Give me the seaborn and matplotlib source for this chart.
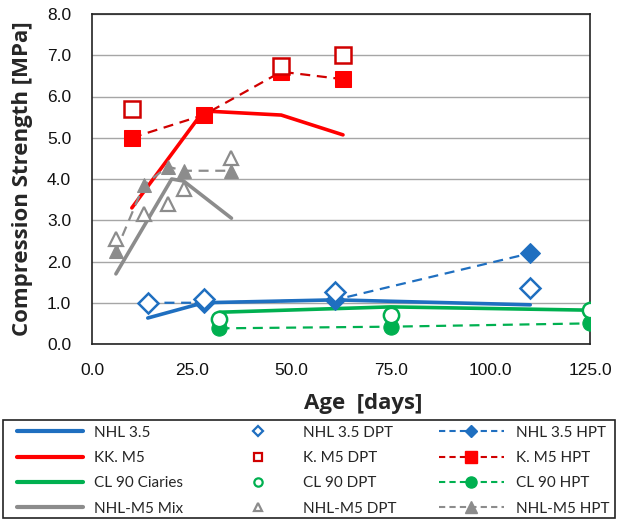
import matplotlib
matplotlib.use("Agg")
import matplotlib.pyplot as plt
import seaborn as sns
from matplotlib.lines import Line2D
from matplotlib.patches import Rectangle

# ---- data ----
nhl_x = [14, 28, 61, 110]
nhl_y = [0.63, 1.0, 1.07, 0.95]
nhl_dpt_x = [14, 28, 61, 110]
nhl_dpt_y = [1.0, 1.1, 1.25, 1.35]
nhl_hpt_x = [14, 28, 61, 110]
nhl_hpt_y = [1.0, 1.0, 1.07, 2.2]

km5_x = [10, 28, 47.5, 63]
km5_y = [3.3, 5.65, 5.55, 5.07]
km5_dpt_x = [10, 47.5, 63]
km5_dpt_y = [5.7, 6.75, 7.0]
km5_hpt_x = [10, 28, 47.5, 63]
km5_hpt_y = [5.0, 5.55, 6.6, 6.42]

cl_x = [32, 75, 125]
cl_y = [0.77, 0.9, 0.82]
cl_dpt_x = [32, 75, 125]
cl_dpt_y = [0.6, 0.7, 0.82]
cl_hpt_x = [32, 75, 125]
cl_hpt_y = [0.38, 0.42, 0.5]

mix_x = [6, 20, 23, 35]
mix_y = [1.7, 4.0, 3.95, 3.05]
mix_dpt_x = [6, 13, 19, 23, 35]
mix_dpt_y = [2.55, 3.15, 3.4, 3.75, 4.5]
mix_hpt_x = [6, 13, 19, 23, 35]
mix_hpt_y = [2.25, 3.85, 4.3, 4.2, 4.2]

x_ticks = [0, 25, 50, 75, 100, 125]
y_ticks = [0, 1, 2, 3, 4, 5, 6, 7, 8]

labels = ["NHL 3.5", "KK. M5", "CL 90 Ciaries", "NHL-M5 Mix",
          "NHL 3.5 DPT", "K. M5 DPT", "CL 90 DPT", "NHL-M5 DPT",
          "NHL 3.5 HPT", "K. M5 HPT", "CL 90 HPT", "NHL-M5 HPT"]

BLUE = "#1f6fc0"
RED = "#ff0000"
DRED = "#d00000"
GREEN = "#00b050"
GRAY = "#8c8c8c"

sns.set_style("white")
plt.rcParams['font.family'] = ['Liberation Sans', 'DejaVu Sans']

W, H = 617, 521
fig = plt.figure(figsize=(W / 100, H / 100), dpi=100)
ax = fig.add_axes([92/W, 1-344/H, (590-92)/W, (344-14)/H])

dash = (4.5, 3)
lw_solid = 2.6
lw_dash = 1.6

def line(x, y, **kw):
    sns.lineplot(x=x, y=y, ax=ax, sort=False, estimator=None, **kw)

# gray series
line(mix_x, mix_y, color=GRAY, linewidth=lw_solid, zorder=3)
line(mix_hpt_x, mix_hpt_y, color=GRAY, linewidth=lw_dash, dashes=dash,
     marker='^', markersize=10, markeredgecolor=GRAY, markerfacecolor=GRAY, zorder=4)
line(mix_dpt_x, mix_dpt_y, color=GRAY, linestyle='', marker='^', markersize=10,
     markerfacecolor='white', markeredgecolor=GRAY, markeredgewidth=1.6, zorder=5)

# red series
line(km5_x, km5_y, color=RED, linewidth=lw_solid, zorder=3)
line(km5_hpt_x, km5_hpt_y, color=DRED, linewidth=lw_dash, dashes=dash,
     marker='s', markersize=11, markeredgecolor=RED, markerfacecolor=RED, zorder=4)
line(km5_dpt_x, km5_dpt_y, color=DRED, linestyle='', marker='s', markersize=11,
     markerfacecolor='white', markeredgecolor=DRED, markeredgewidth=1.8, zorder=5)

# blue series
line(nhl_x, nhl_y, color=BLUE, linewidth=lw_solid, zorder=3)
line(nhl_hpt_x, nhl_hpt_y, color=BLUE, linewidth=lw_dash, dashes=dash,
     marker='D', markersize=10.5, markeredgecolor=BLUE, markerfacecolor=BLUE, zorder=4)
line(nhl_dpt_x, nhl_dpt_y, color=BLUE, linestyle='', marker='D', markersize=10.5,
     markerfacecolor='white', markeredgecolor=BLUE, markeredgewidth=1.8, zorder=5)

# green series
line(cl_x, cl_y, color=GREEN, linewidth=lw_solid, zorder=3)
line(cl_hpt_x, cl_hpt_y, color=GREEN, linewidth=lw_dash, dashes=dash,
     marker='o', markersize=11, markeredgecolor=GREEN, markerfacecolor=GREEN, zorder=4)
line(cl_dpt_x, cl_dpt_y, color=GREEN, linestyle='', marker='o', markersize=11,
     markerfacecolor='white', markeredgecolor=GREEN, markeredgewidth=1.8, zorder=5)

ax.set_xlim(0, 125)
ax.set_ylim(0, 8)
ax.set_xticks(x_ticks)
ax.set_xticklabels([f"{v:.1f}" for v in x_ticks])
ax.set_yticks(y_ticks)
ax.set_yticklabels([f"{v:.1f}" for v in y_ticks])
ax.yaxis.grid(True, color="#a6a6a6", linewidth=1.0, zorder=0)
ax.set_axisbelow(True)
for s in ax.spines.values():
    s.set_color("#222222")
    s.set_linewidth(1.2)
ax.tick_params(axis='both', direction='out', length=5, width=1.2, color="#222222",
               labelsize=12.5, labelcolor="#111111")
ax.tick_params(axis='x', pad=9)
ax.tick_params(axis='y', pad=10)
lab_font = ['Open Sans', 'DejaVu Sans']
ax.set_xlabel("Age  [days]", fontsize=16, fontweight='bold', family=lab_font, va='top')
ax.set_ylabel("Compression Strength [MPa]", fontsize=16, fontweight='bold', family=lab_font)
ax.xaxis.set_label_coords(0.545, -0.148)
ax.yaxis.set_label_coords(-0.118, 0.5)
if ax.get_legend() is not None:
    ax.get_legend().remove()

# legend
handles = [
    Line2D([0], [0], color=BLUE, lw=3),
    Line2D([0], [0], color=RED, lw=3),
    Line2D([0], [0], color=GREEN, lw=3),
    Line2D([0], [0], color=GRAY, lw=3),
    Line2D([0], [0], color=BLUE, ls='', marker='D', ms=5, mfc='white', mec=BLUE, mew=1.6),
    Line2D([0], [0], color=DRED, ls='', marker='s', ms=6, mfc='white', mec=DRED, mew=1.6),
    Line2D([0], [0], color=GREEN, ls='', marker='o', ms=6, mfc='white', mec=GREEN, mew=1.6),
    Line2D([0], [0], color=GRAY, ls='', marker='^', ms=6, mfc='white', mec=GRAY, mew=1.6),
    Line2D([0], [0], color=BLUE, ls='--', lw=1.5, marker='D', ms=6, mfc=BLUE, mec=BLUE),
    Line2D([0], [0], color=DRED, ls='--', lw=1.5, marker='s', ms=9, mfc=RED, mec=RED),
    Line2D([0], [0], color=GREEN, ls='--', lw=1.5, marker='o', ms=8, mfc=GREEN, mec=GREEN),
    Line2D([0], [0], color=GRAY, ls='--', lw=1.5, marker='^', ms=8, mfc=GRAY, mec=GRAY),
]
for hd in handles[8:]:
    hd.set_dashes((3, 2))
leg = fig.legend(handles, labels, ncol=3, loc='upper left',
                 bbox_to_anchor=(13/W, 1 - 518/H, (613-13)/W, (518-422)/H), mode='expand',
                 frameon=False,
                 prop={'family': ['Lato', 'DejaVu Sans'], 'size': 11},
                 handlelength=4.3, handletextpad=0.75, labelspacing=0.74,
                 columnspacing=1.0, borderaxespad=0, numpoints=1, borderpad=0.25)

# legend frame
frame = Rectangle((3/W, 1 - 518/H), (615-3)/W, (518-420)/H,
                  transform=fig.transFigure, fill=False,
                  edgecolor="#222222", linewidth=1.2)
fig.patches.append(frame)

fig.savefig("out.png", dpi=100)
